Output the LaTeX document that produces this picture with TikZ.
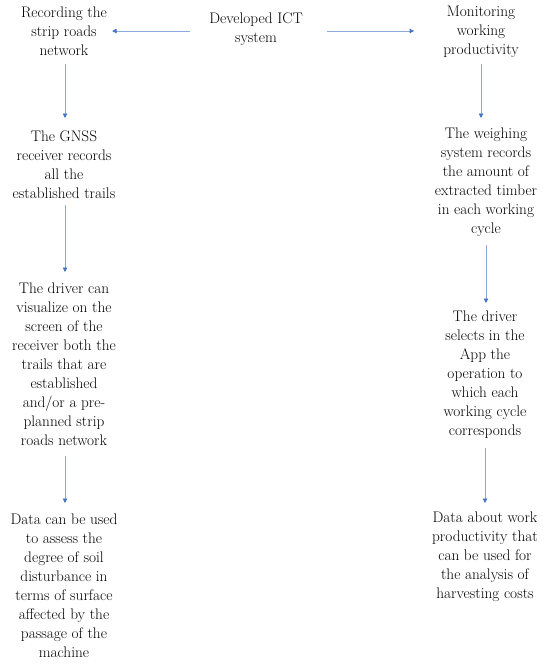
\documentclass[tikz,border=0pt]{standalone}
\usetikzlibrary{arrows.meta}
\definecolor{lineblue}{HTML}{8EA9DB}
\definecolor{tipblue}{HTML}{4472C4}
\begin{document}
\begin{tikzpicture}[x=1pt,y=-1pt,
  txt/.style={align=center,inner sep=0pt,font=\fontsize{15.3}{19}\selectfont},
  conn/.style={draw=lineblue,line width=0.9pt,-{Triangle[length=4.5pt,width=4.5pt,color=tipblue]}}]
\useasboundingbox[fill=white] (0,0) rectangle (550,664);
\node[txt] (rec) at (64,31) {Recording the\\strip roads\\network};
\node[txt] (dev) at (256,29.5) {Developed ICT\\system};
\node[txt] (mon) at (481,31.5) {Monitoring\\working\\productivity};
\node[txt] (gnss) at (64,164.5) {The GNSS\\receiver records\\all the\\established trails};
\node[txt] (drv) at (64,364) {The driver can\\visualize on the\\screen of the\\receiver both the\\trails that are\\established\\and/or a pre-\\planned strip\\roads network};
\node[txt] (dat) at (64,585.5) {Data can be used\\to assess the\\degree of soil\\disturbance in\\terms of surface\\affected by the\\passage of the\\machine};
\node[txt] (wei) at (486,182.5) {The weighing\\system records\\the amount of\\extracted timber\\in each working\\cycle};
\node[txt] (sel) at (485,375) {The driver\\selects in the\\App the\\operation to\\which each\\working cycle\\corresponds};
\node[txt] (dwp) at (485,557) {Data about work\\productivity that\\can be used for\\the analysis of\\harvesting costs};
% horizontal connectors
\draw[conn] ([xshift=-19pt]dev.west |- 0,31) -- ([xshift=5pt]rec.east |- 0,31);
\draw[conn] ([xshift=24pt]dev.east |- 0,31) -- ([xshift=-29pt]mon.west |- 0,31);
% left column
\draw[conn] ([xshift=1pt]rec.south |- 0,64) -- ([xshift=1pt]gnss.north |- 0,118);
\draw[conn] ([xshift=1pt]gnss.south |- 0,205) -- ([xshift=1pt]drv.north |- 0,272);
\draw[conn] ([xshift=1pt]drv.south |- 0,456) -- ([xshift=1pt]dat.north |- 0,503);
% right column
\draw[conn] (mon.south |- 0,64) -- (mon.south |- 0,118);
\draw[conn] (wei.south |- 0,245) -- (wei.south |- 0,303);
\draw[conn] (dwp.north |- 0,448) -- (dwp.north |- 0,503);
\end{tikzpicture}
\end{document}
